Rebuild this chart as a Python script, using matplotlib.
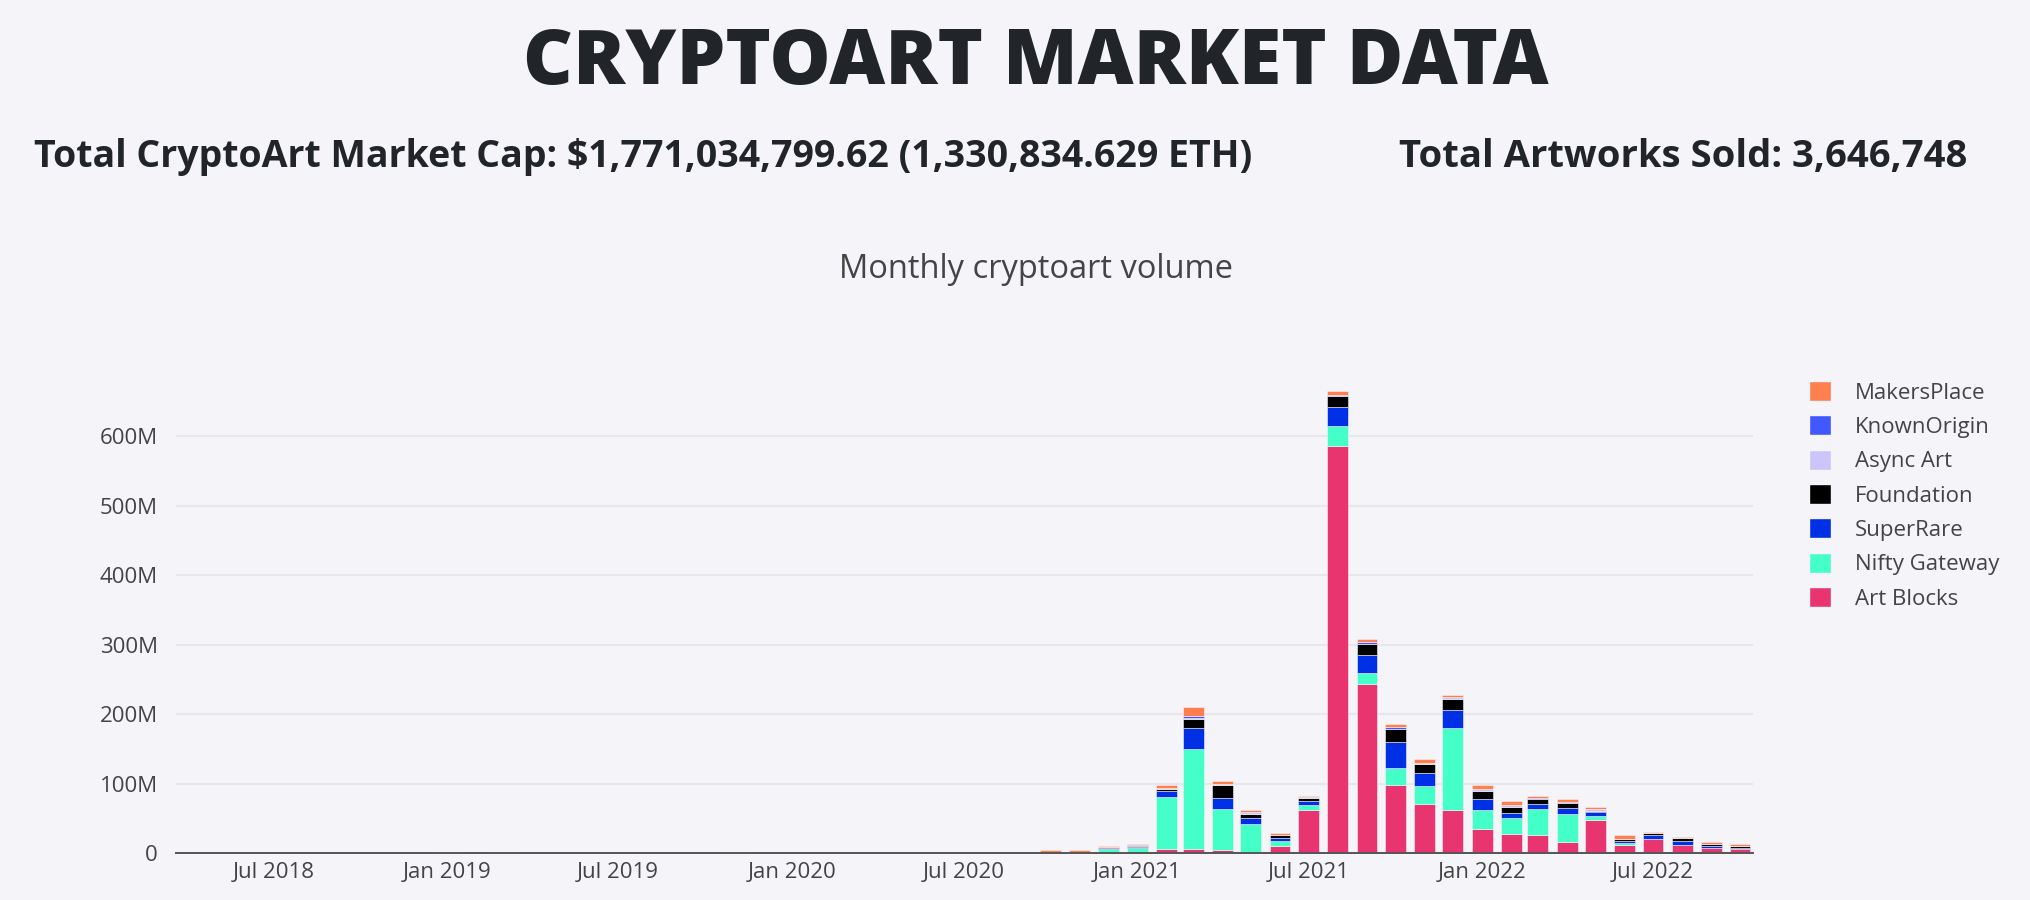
import datetime as dt
import matplotlib
matplotlib.use('Agg')
import matplotlib.pyplot as plt
import matplotlib.dates as mdates
from matplotlib.patches import Patch
from matplotlib.ticker import FuncFormatter

# monthly volume in millions USD, Apr 2018 .. Oct 2022
months = [dt.date(2018 + (3 + i) // 12, (3 + i) % 12 + 1, 1) for i in range(55)]

art_blocks = [0] * 34 + [6.2, 6.2, 4.8, 2.4, 11, 62.4, 585.7, 243.9, 98.4, 71, 62.4,
                         35, 27.4, 25.9, 16.8, 48, 12.5, 20.6, 11.5, 7.7, 6.7]
nifty_gateway = [0] * 32 + [5.5, 7.2, 75.4, 144, 59.5, 39.8, 6.7, 7.7, 29.8, 16.3, 25, 25.9, 118.6,
                            26.9, 24, 38.4, 39.8, 6.2, 2.4, 0.3, 0.2, 0.2, 0.1]
super_rare = [0.1, 0.1, 0.1, 0.2, 0.2, 0.2, 0.3, 0.3, 0.4, 1.3, 0.4, 1.3, 0.5, 0.3, 0.2, 0.2,
              0.3, 0.3, 0.3, 1.4, 0.3, 0.3, 0.3, 0.3, 0.3, 0.3, 0.3, 0.3, 0.4, 0.4, 0.8, 0.8,
              2.5, 2.4, 8.6, 29.8, 15.8, 8.2, 3.8, 5.3, 26.9, 25, 37.4, 18.2, 25.9,
              15.8, 6.2, 6.7, 9.1, 5.3, 2.9, 5.3, 6.2, 2.9, 0.5]
foundation = [0] * 32 + [0.5, 0.6, 2.9, 13.9, 18.2, 6.7, 4.3, 4.8, 15.4, 15.8, 17.8, 13.9, 15.4,
                         12.5, 9.6, 6.7, 6.2, 1.9, 2.4, 2.4, 3.4, 2.4, 2.9]
async_art = [0] * 32 + [0, 0, 0.5, 1.0, 0.8, 0.5, 0.3, 0.3, 0.5, 0.5, 0.5, 0.5, 2.0,
                        1.9, 1.9, 0.3, 0.3, 1.9, 0.3, 0.2, 0.2, 0.2, 0.2]
known_origin = [0, 0, 0, 0, 0, 0, 0, 1.2, 0, 0, 0, 0, 0, 0, 0, 0,
                1.3, 0, 1.3, 0, 0, 1.3, 0, 0, 0, 0, 0, 0, 0, 0, 0, 0,
                1.0, 1.2, 0.5, 2.4, 0.6, 2.0, 0.5, 0.5, 2.0, 2.0, 2.4, 0.5, 0.5,
                0.3, 0.3, 2.2, 2.2, 0.3, 0.3, 0.2, 0.2, 0.2, 0.2]
makers_place = [0] * 13 + [1.3, 0, 0, 0, 1.3, 0, 0, 1.3, 0, 1.3, 1.4, 1.4, 1.4, 1.4, 1.4, 1.4, 1.4, 3.5, 3.8,
                           1.5, 2.0, 4.8, 13.4, 4.3, 2.4, 2.0, 2.0, 5.8, 5.3, 5.3, 5.3, 3.0,
                           6.0, 5.5, 2.4, 3.4, 3.6, 5.3, 2.2, 2.0, 2.0, 3.0]

series = [
    ("Art Blocks", art_blocks, "#E83570"),
    ("Nifty Gateway", nifty_gateway, "#45FFC9"),
    ("SuperRare", super_rare, "#0030E6"),
    ("Foundation", foundation, "#000000"),
    ("Async Art", async_art, "#CBC5FA"),
    ("KnownOrigin", known_origin, "#4158FF"),
    ("MakersPlace", makers_place, "#FF7F4F"),
]

BG = "#F4F4F9"
TXT = "#444444"
plt.rcParams['font.family'] = ['Open Sans', 'DejaVu Sans']

fig = plt.figure(figsize=(20.31, 9.0), dpi=100, facecolor=BG)
ax = fig.add_axes([0.0867, 0.0519, 0.7765, 0.5403], facecolor=BG)

bottom = [0.0] * len(months)
handles = []
for name, vals, color in series:
    ax.bar(months, vals, width=22, bottom=bottom, color=color,
           edgecolor=BG, linewidth=0.4, zorder=3)
    bottom = [b + v for b, v in zip(bottom, vals)]
    handles.append(Patch(facecolor=color, edgecolor=BG, label=name))

ax.set_xlim(dt.date(2018, 3, 20), dt.date(2022, 10, 15))
ax.set_ylim(0, 700)
ax.set_yticks([0, 100, 200, 300, 400, 500, 600])
ax.yaxis.set_major_formatter(FuncFormatter(lambda v, p: "0" if v == 0 else f"{int(v)}M"))
ax.xaxis.set_major_locator(mdates.MonthLocator(bymonth=[1, 7]))
ax.xaxis.set_major_formatter(mdates.DateFormatter("%b %Y"))
ax.grid(axis='y', color="#E6E6EB", linewidth=1.5, zorder=0)
for s in ["top", "right", "left"]:
    ax.spines[s].set_visible(False)
ax.spines["bottom"].set_color("#555555")
ax.spines["bottom"].set_linewidth(1.4)
ax.spines["bottom"].set_zorder(4)
ax.tick_params(axis='both', length=0, labelsize=16, labelcolor=TXT)
ax.tick_params(axis='y', pad=13)
ax.tick_params(axis='x', pad=6)

fig.legend(handles=handles[::-1], loc="upper left", bbox_to_anchor=(1809 / 2031, 1 - 381 / 900),
           frameon=False, fontsize=16, labelcolor=TXT, handlelength=1.0, handleheight=1.0,
           handletextpad=1.05, labelspacing=0.53, borderpad=0, borderaxespad=0)

fig.text(0.510, 0.929, "CRYPTOART MARKET DATA", ha="center", va="center",
         fontsize=55.5, fontweight="heavy", color="#212529")
fig.text(0.0167, 0.826, "Total CryptoArt Market Cap: $1,771,034,799.62 (1,330,834.629 ETH)",
         ha="left", va="center", fontsize=27, fontweight="bold", color="#212529")
fig.text(0.689, 0.826, "Total Artworks Sold: 3,646,748",
         ha="left", va="center", fontsize=27.5, fontweight="bold", color="#212529")
fig.text(0.510, 0.700, "Monthly cryptoart volume", ha="center", va="center",
         fontsize=23.5, color=TXT)

fig.savefig("out.png", dpi=100, facecolor=BG)
